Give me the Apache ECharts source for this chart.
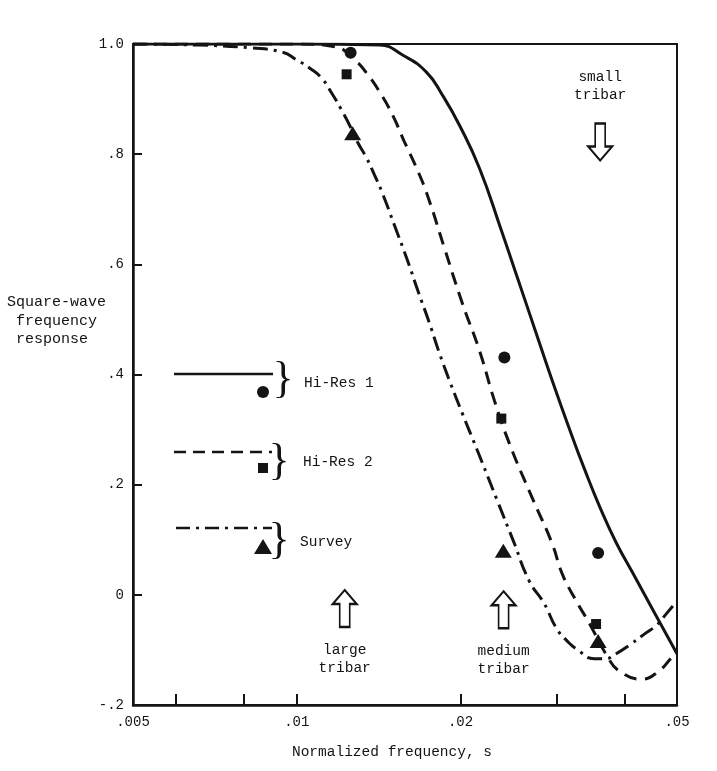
<!DOCTYPE html>
<html>
<head>
<meta charset="utf-8">
<script src="https://cdn.jsdelivr.net/npm/echarts@6/dist/echarts.min.js"></script>
<style>
  html, body { margin: 0; padding: 0; background: #fff; }
  #chart { width: 717px; height: 771px; }
</style>
</head>
<body>
<div id="chart"></div>
<script>
// curves: normalized frequency s and square-wave response
const hiRes1Freq = [0.005, 0.0101, 0.0142, 0.01565, 0.01731, 0.01853, 0.0199, 0.02166, 0.02377, 0.02554, 0.02744, 0.02948, 0.03169, 0.0339, 0.03612, 0.03864, 0.04171, 0.04537, 0.05];
const hiRes1Resp = [1.0, 1.0, 0.998, 0.98, 0.949, 0.907, 0.853, 0.775, 0.662, 0.571, 0.48, 0.389, 0.302, 0.225, 0.158, 0.095, 0.035, -0.031, -0.107];

const hiRes2Freq = [0.005, 0.0101, 0.01174, 0.01278, 0.01344, 0.0142, 0.015, 0.01578, 0.0166, 0.01739, 0.01869, 0.02016, 0.02166, 0.02308, 0.02459, 0.02709, 0.02948, 0.03076, 0.03264, 0.03447, 0.0372, 0.03913, 0.04312, 0.04634, 0.04875, 0.05];
const hiRes2Resp = [1.0, 1.0, 0.995, 0.971, 0.947, 0.913, 0.871, 0.822, 0.775, 0.725, 0.629, 0.529, 0.444, 0.353, 0.275, 0.176, 0.093, 0.038, -0.011, -0.051, -0.111, -0.138, -0.153, -0.138, -0.115, -0.102];

const surveyFreq = [0.005, 0.00664, 0.0082, 0.00942, 0.01, 0.01057, 0.01111, 0.01159, 0.01209, 0.0125, 0.01293, 0.01344, 0.0139, 0.01437, 0.01512, 0.01598, 0.01674, 0.01754, 0.0183, 0.01917, 0.02016, 0.02148, 0.02337, 0.02501, 0.02676, 0.02851, 0.02999, 0.03142, 0.03264, 0.03521, 0.03689, 0.03864, 0.04118, 0.04386, 0.04576, 0.04773, 0.05];
const surveyResp = [1.0, 0.998, 0.993, 0.985, 0.971, 0.956, 0.938, 0.911, 0.88, 0.853, 0.822, 0.793, 0.762, 0.729, 0.671, 0.607, 0.549, 0.493, 0.438, 0.384, 0.329, 0.262, 0.171, 0.098, 0.025, -0.016, -0.06, -0.084, -0.098, -0.116, -0.116, -0.107, -0.089, -0.069, -0.056, -0.035, -0.011];

// measured points
const hiRes1PtFreq = [0.01256, 0.02408, 0.03581];
const hiRes1PtResp = [0.984, 0.431, 0.076];
const hiRes2PtFreq = [0.01235, 0.02377, 0.0355];
const hiRes2PtResp = [0.945, 0.32, -0.053];
const surveyPtFreq = [0.01267, 0.02397, 0.03581];
const surveyPtResp = [0.838, 0.08, -0.084];

// tribar targets
const tribarNames = ['large\ntribar', 'medium\ntribar', 'small\ntribar'];
const tribarFreq = [0.01225, 0.024, 0.03612];
const tribarResp = [-0.025, -0.027, 0.822];
const tribarUp = [true, true, false];

// axes
const xLabelValues = [0.005, 0.01, 0.02, 0.05];
const xLabels = ['.005', '.01', '.02', '.05'];
const xTickValues = [0.006, 0.008, 0.01, 0.02, 0.03, 0.04];
const yLabels = ['-.2', '0', '.2', '.4', '.6', '.8', '1.0'];

const ink = '#141414';
const mono = '"Liberation Mono", "DejaVu Sans Mono", monospace';

function pairs(freq, resp) {
    return freq.map((f, i) => [Math.log10(f), resp[i]]);
}

function curve(freq, resp, dash) {
    return {
        type: 'line',
        data: pairs(freq, resp),
        showSymbol: false,
        smooth: 0.5,
        silent: true,
        z: 3,
        lineStyle: { color: ink, width: 3, type: dash, cap: 'butt' }
    };
}

function points(freq, resp, symbol, size) {
    return {
        type: 'scatter',
        data: pairs(freq, resp),
        symbol: symbol,
        symbolSize: size,
        silent: true,
        z: 4,
        itemStyle: { color: ink, opacity: 1 }
    };
}

let chart = echarts.init(document.getElementById('chart'));

let option = {
    animation: false,
    backgroundColor: '#fff',
    grid: { left: 133, right: 40, top: 44, bottom: 66, show: true, borderColor: ink, borderWidth: 2 },
    xAxis: {
        type: 'value',
        min: Math.log10(0.005),
        max: Math.log10(0.05),
        splitLine: { show: false },
        axisLine: { onZero: false, lineStyle: { color: ink, width: 2.5 } },
        axisTick: {
            inside: true, length: 11,
            customValues: xTickValues.map(Math.log10),
            lineStyle: { color: ink, width: 2 }
        },
        axisLabel: {
            margin: 10,
            customValues: xLabelValues.map(Math.log10),
            color: ink, fontFamily: mono, fontSize: 14,
            formatter: function (v) {
                for (let i = 0; i < xLabelValues.length; i++) {
                    if (Math.abs(Math.log10(xLabelValues[i]) - v) < 1e-6) return xLabels[i];
                }
                return '';
            }
        }
    },
    yAxis: {
        type: 'value',
        min: -0.2,
        max: 1.0,
        interval: 0.2,
        splitLine: { show: false },
        axisLine: { show: true, onZero: false, lineStyle: { color: ink, width: 2.5 } },
        axisTick: { show: true, inside: true, length: 9, lineStyle: { color: ink, width: 2 } },
        axisLabel: {
            margin: 9, color: ink, fontFamily: mono, fontSize: 14,
            formatter: function (v) {
                return yLabels[Math.round((v + 0.2) / 0.2)];
            }
        }
    },
    series: [
        curve(hiRes1Freq, hiRes1Resp, 'solid'),
        curve(hiRes2Freq, hiRes2Resp, [13, 8]),
        curve(surveyFreq, surveyResp, [15, 6, 3, 6]),
        points(hiRes1PtFreq, hiRes1PtResp, 'circle', 12),
        points(hiRes2PtFreq, hiRes2PtResp, 'rect', 10),
        points(surveyPtFreq, surveyPtResp, 'triangle', [17, 14]),
        {
            type: 'scatter',
            silent: true,
            z: 4,
            symbol: 'path://M12 0 L24 14 L17 14 L17 37 L7 37 L7 14 L0 14 Z',
            symbolSize: [24, 37],
            itemStyle: { color: '#fff', borderColor: ink, borderWidth: 2, opacity: 1 },
            label: {
                show: true, color: ink, opacity: 1, fontFamily: mono, fontSize: 14.5, lineHeight: 18,
                formatter: function (p) { return tribarNames[p.dataIndex]; }
            },
            data: tribarFreq.map(function (f, i) {
                return {
                    value: [Math.log10(f), tribarResp[i]],
                    symbolRotate: tribarUp[i] ? 0 : 180,
                    label: { position: tribarUp[i] ? 'bottom' : 'top', distance: tribarUp[i] ? 13 : 18 }
                };
            })
        }
    ],
    graphic: [
        // axis titles
        { type: 'text', left: 7, top: 293, style: { text: 'Square-wave\n frequency\n response', fill: ink, font: '15px ' + mono, lineHeight: 18.5 } },
        { type: 'text', x: 392, y: 752, style: { text: 'Normalized frequency, s', fill: ink, font: '14.5px ' + mono, textAlign: 'center', textVerticalAlign: 'middle' } },
        // legend keys
        { type: 'line', shape: { x1: 174, y1: 374, x2: 273, y2: 374 }, style: { stroke: ink, lineWidth: 2.5 } },
        { type: 'circle', shape: { cx: 263, cy: 392, r: 6 }, style: { fill: ink } },
        { type: 'text', x: 283, y: 380, style: { text: '}', fill: ink, font: '44px "Liberation Serif", serif', textAlign: 'center', textVerticalAlign: 'middle' } },
        { type: 'text', x: 304, y: 383, style: { text: 'Hi-Res 1', fill: ink, font: '14.5px ' + mono, textVerticalAlign: 'middle' } },

        { type: 'line', shape: { x1: 174, y1: 452, x2: 272, y2: 452 }, style: { stroke: ink, lineWidth: 2.5, lineDash: [12, 7] } },
        { type: 'rect', shape: { x: 258, y: 463, width: 10, height: 10 }, style: { fill: ink } },
        { type: 'text', x: 279, y: 462, style: { text: '}', fill: ink, font: '44px "Liberation Serif", serif', textAlign: 'center', textVerticalAlign: 'middle' } },
        { type: 'text', x: 303, y: 462, style: { text: 'Hi-Res 2', fill: ink, font: '14.5px ' + mono, textVerticalAlign: 'middle' } },

        { type: 'line', shape: { x1: 176, y1: 528, x2: 272, y2: 528 }, style: { stroke: ink, lineWidth: 2.5, lineDash: [14, 6, 3, 6] } },
        { type: 'polygon', shape: { points: [[254, 554], [263, 539], [272, 554]] }, style: { fill: ink } },
        { type: 'text', x: 279, y: 541, style: { text: '}', fill: ink, font: '44px "Liberation Serif", serif', textAlign: 'center', textVerticalAlign: 'middle' } },
        { type: 'text', x: 300, y: 542, style: { text: 'Survey', fill: ink, font: '14.5px ' + mono, textVerticalAlign: 'middle' } }
    ]
};

if (option && typeof option === 'object') {
    chart.setOption(option);
}
</script>
</body>
</html>
